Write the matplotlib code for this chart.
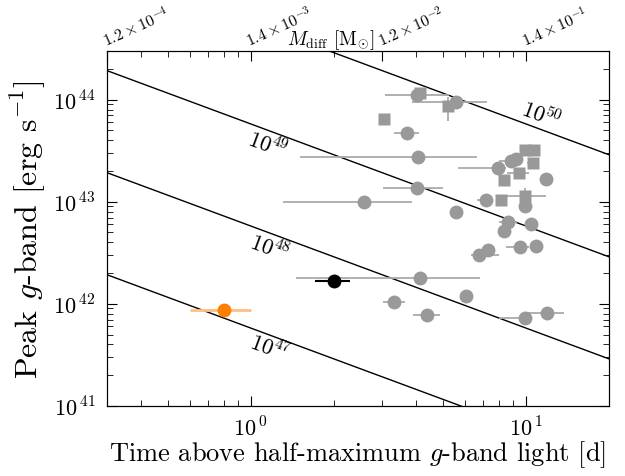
import numpy as np
import matplotlib
matplotlib.use("Agg")
import matplotlib.pyplot as plt
from matplotlib.ticker import FixedLocator, NullFormatter, LogLocator

plt.rcParams['font.family'] = 'serif'
plt.rcParams['font.serif'] = ['cmr10', 'DejaVu Serif']
plt.rcParams['mathtext.fontset'] = 'cm'
plt.rcParams['axes.unicode_minus'] = False
plt.rcParams['axes.formatter.use_mathtext'] = True

# ---- data (days, erg/s) ----
circ_t   = [4.03, 5.57, 3.70, 4.06, 4.03, 2.59, 5.57, 7.92, 8.83, 9.20, 11.8, 7.16, 9.92,
            8.6, 10.4, 8.32, 9.51, 10.9, 6.76, 7.28, 4.13, 3.32, 6.06, 4.38, 9.92, 11.9]
circ_L   = [1.10e44, 9.5e43, 4.74e43, 2.76e43, 1.37e43, 1.0e43, 7.98e42, 2.15e43, 2.52e43,
            2.63e43, 1.68e43, 1.05e43, 9.1e42, 6.37e42, 6.08e42, 5.2e42, 3.62e42, 3.71e42,
            3.02e42, 3.38e42, 1.80e42, 1.05e42, 1.2e42, 7.8e41, 7.3e41, 8.2e41]
circ_tlo = [3.08, 3.86, 3.32, 1.51, 3.03, 1.31, 5.35, 5.67, 7.98, 9.20, 11.8, 6.64, 9.92,
            7.98, 10.4, 8.32, 8.5, 10.9, 6.32, 7.28, 1.46, 3.03, 6.06, 3.90, 7.98, 9.9]
circ_thi = [5.26, 7.22, 4.10, 6.64, 5.00, 3.86, 5.80, 8.47, 9.68, 9.20, 11.8, 7.53, 9.92,
            9.3, 10.4, 8.32, 10.3, 10.9, 7.98, 7.28, 6.81, 3.65, 6.06, 4.88, 9.92, 13.7]

sq_t   = [4.13, 5.22, 3.06, 9.92, 10.7, 10.6, 9.43, 8.32, 8.12, 9.92]
sq_L   = [1.17e44, 8.7e43, 6.5e43, 3.24e43, 3.24e43, 2.41e43, 1.92e43, 1.64e43, 1.05e43, 1.15e43]
sq_tlo = [4.13, 5.22, 3.06, 9.92, 10.7, 10.1, 8.53, 8.32, 8.12, 8.47]
sq_thi = [4.13, 5.22, 3.06, 9.92, 10.7, 11.1, 10.3, 8.32, 8.12, 11.8]
sq_Llo = [1.17e44, 6.2e43, 6.5e43, 3.24e43, 3.24e43, 2.41e43, 1.92e43, 1.64e43, 1.0e43, 1.0e43]
sq_Lhi = [1.17e44, 1.07e44, 6.5e43, 3.24e43, 3.24e43, 2.41e43, 1.92e43, 1.64e43, 1.05e43, 1.37e43]

orange_t, orange_L, orange_tlo, orange_thi = 0.80, 8.7e41, 0.60, 1.0
black_t, black_L, black_tlo, black_thi = 2.0, 1.68e42, 1.71, 2.30

energies = [1e47, 1e48, 1e49, 1e50]
energy_labels = [r"$10^{47}$", r"$10^{48}$", r"$10^{49}$", r"$10^{50}$"]

top_tick_t = [0.3, 1.0, 3.0, 10.0]
top_tick_labels = [r"$1.2\times10^{-4}$", r"$1.4\times10^{-3}$", r"$1.2\times10^{-2}$", r"$1.4\times10^{-1}$"]

# ---- figure ----
fig = plt.figure(figsize=(6.25, 4.77), dpi=100)
ax = fig.add_axes([0.171, 0.147, 0.803, 0.744])
ax.set_xscale('log')
ax.set_yscale('log')
ax.set_xlim(0.3, 20)
ax.set_ylim(1e41, 3e44)

# constant-energy lines
tt = np.logspace(np.log10(0.3), np.log10(20), 200)
for E in energies:
    ax.plot(tt, E / (2 * tt * 86400.0), color='black', lw=1.0, zorder=1)

# energy labels
lab_pos = [(1.17, 3.8e41), (1.17, 3.6e42), (1.15, 3.7e43), (11.4, 7.3e43)]
for (xp, yp), s in zip(lab_pos, energy_labels):
    ax.text(xp, yp, s, fontsize=16, rotation=-20.3, ha='center', va='center',
            rotation_mode='anchor', zorder=3)

gray = '#999999'
egray = '#aaaaaa'

# circles
c_t = np.array(circ_t); c_L = np.array(circ_L)
xerr_c = [c_t - np.array(circ_tlo), np.array(circ_thi) - c_t]
ax.errorbar(c_t, c_L, xerr=xerr_c, fmt='none', ecolor=egray, elinewidth=1.3, capsize=0, zorder=2)
ax.plot(c_t, c_L, 'o', color=gray, ms=10, mec='none', zorder=4)

# squares
s_t = np.array(sq_t); s_L = np.array(sq_L)
xerr_s = [s_t - np.array(sq_tlo), np.array(sq_thi) - s_t]
yerr_s = [s_L - np.array(sq_Llo), np.array(sq_Lhi) - s_L]
ax.errorbar(s_t, s_L, xerr=xerr_s, yerr=yerr_s, fmt='none', ecolor=egray, elinewidth=1.3, capsize=0, zorder=2)
ax.plot(s_t, s_L, 's', color=gray, ms=8.5, mec='none', zorder=4)

# orange
ax.errorbar([orange_t], [orange_L], xerr=[[orange_t - orange_tlo], [orange_thi - orange_t]],
            fmt='none', ecolor='#ffbf80', elinewidth=2.0, capsize=0, zorder=2)
ax.plot([orange_t], [orange_L], 'o', color='#ff8000', ms=10, mec='none', zorder=5)

# black
ax.errorbar([black_t], [black_L], xerr=[[black_t - black_tlo], [black_thi - black_t]],
            fmt='none', ecolor='black', elinewidth=1.5, capsize=0, zorder=2)
ax.plot([black_t], [black_L], 'o', color='black', ms=10, mec='none', zorder=5)

# ticks
ax.tick_params(which='both', direction='in', top=False, right=True, labelsize=16)
ax.tick_params(which='major', length=7)
ax.tick_params(which='minor', length=4)
ax.set_xticks([1, 10])
ax.set_xticklabels([r"$10^{\,0}$", r"$10^{\,1}$"])
ax.set_yticks([1e41, 1e42, 1e43, 1e44])
ax.set_yticklabels([r"$10^{\,41}$", r"$10^{\,42}$", r"$10^{\,43}$", r"$10^{\,44}$"])
ax.yaxis.set_minor_formatter(NullFormatter())
ax.xaxis.set_minor_formatter(NullFormatter())
ax.tick_params(axis='x', pad=7)
ax.tick_params(axis='y', pad=8)

ax.set_xlabel(r"Time above half-maximum $g$-band light [d]", fontsize=19, labelpad=-1)
ax.set_ylabel(r"Peak $g$-band [erg s$^{-1}$]", fontsize=23, labelpad=4)

# top axis
ax2 = ax.twiny()
ax2.set_xscale('log')
ax2.set_xlim(ax.get_xlim())
ax2.xaxis.set_major_locator(FixedLocator(top_tick_t))
ax2.xaxis.set_minor_locator(LogLocator(base=10, subs=np.arange(2, 10) * 1.0))
ax2.xaxis.set_minor_formatter(NullFormatter())
ax2.set_xticklabels(top_tick_labels)
ax2.tick_params(which='both', direction='in', labelsize=11.5, pad=2)
ax2.tick_params(which='major', length=7)
ax2.tick_params(which='minor', length=4)
for lbl in ax2.get_xticklabels():
    lbl.set_rotation(24)
    lbl.set_ha('left')
    lbl.set_va('bottom')
    lbl.set_rotation_mode('anchor')
fig.text(331 / 625, 1 - 40 / 477, r"$M_{\rm diff}$ [M$_{\odot}$]", fontsize=14,
         ha='center', va='center')

fig.savefig('out.png', dpi=100)
